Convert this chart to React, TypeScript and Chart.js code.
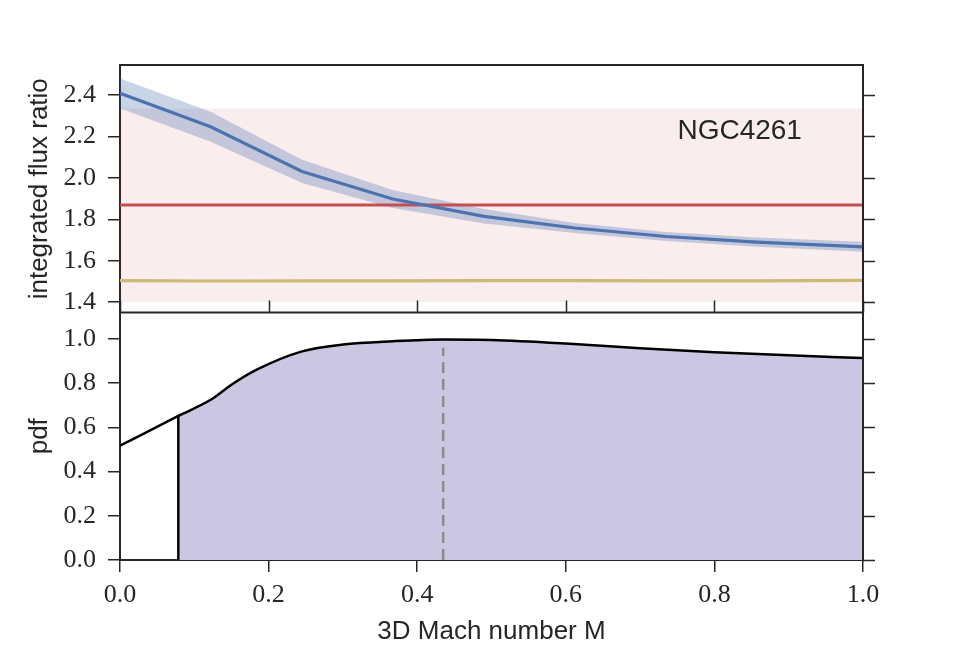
import React, { useEffect, useRef } from "react";
import { Chart, registerables } from "chart.js";

Chart.register(...registerables);

// ---- data ----
const MACH = [0, 0.122, 0.245, 0.367, 0.49, 0.612, 0.735, 0.857, 1.0];
const FLUX_MODEL = [2.408, 2.247, 2.031, 1.898, 1.814, 1.758, 1.717, 1.69, 1.667];
const FLUX_HI = [2.48, 2.319, 2.087, 1.942, 1.85, 1.782, 1.739, 1.712, 1.691];
const FLUX_LO = [2.336, 2.175, 1.975, 1.854, 1.78, 1.734, 1.695, 1.668, 1.643];
const FLUX_THERMAL = [1.504, 1.502, 1.503, 1.503, 1.504, 1.504, 1.503, 1.503, 1.505];
const OBS_RATIO = 1.869;
const OBS_LO = 1.4;
const OBS_HI = 2.335;

const PDF_X = [0, 0.0785, 0.122, 0.15, 0.184, 0.245, 0.3, 0.367, 0.435, 0.5, 0.6, 0.7, 0.8, 0.9, 1.0];
const PDF_Y = [0.517, 0.652, 0.725, 0.793, 0.861, 0.944, 0.975, 0.99, 0.998, 0.996, 0.98, 0.958, 0.94, 0.926, 0.914];
const PDF_CUT = 0.0785;
const PEAK_M = 0.435;
const PEAK_TOP = 0.96;

const X_TICKS = [0, 0.2, 0.4, 0.6, 0.8, 1.0];
const FLUX_TICKS = [1.4, 1.6, 1.8, 2.0, 2.2, 2.4];
const PDF_TICKS = [0, 0.2, 0.4, 0.6, 0.8, 1.0];

const LABEL = "NGC4261";

// ---- styles ----
const INK = "#262626";
const SERIF = "'Liberation Serif', 'DejaVu Serif', serif";
const SANS = "'Liberation Sans', 'DejaVu Sans', sans-serif";
const TICK_LEN = 12;

const pts = (xs: number[], ys: number[]) => xs.map((x, i) => ({ x, y: ys[i] }));
const flat = (v: number) => [{ x: 0, y: v }, { x: 1, y: v }];

const framePlugin = {
  id: "frame",
  afterDraw(chart: any) {
    const { ctx, chartArea, scales } = chart;
    const { left, right, top, bottom } = chartArea;
    const yF = scales.yFlux;
    const yP = scales.yPdf;
    const x = scales.x;
    const sep = yP.top;
    ctx.save();
    ctx.strokeStyle = INK;
    ctx.lineWidth = 2;
    ctx.beginPath();
    ctx.moveTo(left, top);
    ctx.lineTo(right, top);
    ctx.lineTo(right, bottom);
    ctx.stroke();
    ctx.beginPath();
    ctx.moveTo(left, sep);
    ctx.lineTo(right, sep);
    ctx.stroke();
    ctx.lineWidth = 1.5;
    ctx.beginPath();
    for (const v of FLUX_TICKS) {
      const p = Math.round(yF.getPixelForValue(v)) + 0.5;
      ctx.moveTo(right, p);
      ctx.lineTo(right + TICK_LEN, p);
    }
    for (const v of PDF_TICKS) {
      const p = Math.round(yP.getPixelForValue(v)) + 0.5;
      ctx.moveTo(right, p);
      ctx.lineTo(right + TICK_LEN, p);
    }
    for (const v of X_TICKS) {
      const p = Math.round(x.getPixelForValue(v)) + 0.5;
      ctx.moveTo(p, sep);
      ctx.lineTo(p, sep - TICK_LEN);
    }
    ctx.stroke();
    // label
    ctx.fillStyle = INK;
    ctx.font = `28px ${SANS}`;
    ctx.textAlign = "center";
    ctx.textBaseline = "middle";
    ctx.fillText(LABEL, x.getPixelForValue(0.834), yF.getPixelForValue(2.225));
    ctx.restore();
  },
};

export default function App() {
  const ref = useRef<HTMLCanvasElement | null>(null);

  useEffect(() => {
    if (!ref.current) return;
    const pdfPts = pts(PDF_X, PDF_Y);
    const fillPts = pdfPts.filter((p) => p.x >= PDF_CUT);
    const cutTop = PDF_Y[PDF_X.indexOf(PDF_CUT)];

    const chart = new Chart(ref.current, {
      type: "line",
      data: {
        datasets: [
          // top panel
          {
            label: "model",
            data: pts(MACH, FLUX_MODEL),
            yAxisID: "yFlux",
            borderColor: "#4c72b0",
            borderWidth: 3.2,
            pointRadius: 0,
            fill: false,
            order: 1,
          },
          {
            label: "thermal",
            data: pts(MACH, FLUX_THERMAL),
            yAxisID: "yFlux",
            borderColor: "#ccb974",
            borderWidth: 3.2,
            pointRadius: 0,
            fill: false,
            order: 2,
          },
          {
            label: "observed",
            data: flat(OBS_RATIO),
            yAxisID: "yFlux",
            borderColor: "#c44e52",
            borderWidth: 3.2,
            pointRadius: 0,
            fill: false,
            order: 3,
          },
          {
            label: "model hi",
            data: pts(MACH, FLUX_HI),
            yAxisID: "yFlux",
            borderWidth: 0,
            borderColor: "rgba(0,0,0,0)",
            backgroundColor: "rgba(76,114,176,0.3)",
            pointRadius: 0,
            fill: "+1",
            order: 5,
          },
          {
            label: "model lo",
            data: pts(MACH, FLUX_LO),
            yAxisID: "yFlux",
            borderWidth: 0,
            borderColor: "rgba(0,0,0,0)",
            pointRadius: 0,
            fill: false,
            order: 6,
          },
          {
            label: "observed range",
            data: flat(OBS_HI),
            yAxisID: "yFlux",
            borderWidth: 0,
            borderColor: "rgba(0,0,0,0)",
            backgroundColor: "rgba(196,78,82,0.1)",
            pointRadius: 0,
            fill: { value: OBS_LO },
            order: 10,
          },
          // bottom panel
          {
            label: "pdf",
            data: pdfPts,
            yAxisID: "yPdf",
            borderColor: "#000000",
            borderWidth: 2.5,
            pointRadius: 0,
            cubicInterpolationMode: "monotone",
            fill: false,
            order: 1,
          },
          {
            label: "cut",
            data: [{ x: PDF_CUT, y: 0 }, { x: PDF_CUT, y: cutTop }],
            yAxisID: "yPdf",
            borderColor: "#000000",
            borderWidth: 2.5,
            pointRadius: 0,
            fill: false,
            order: 2,
          },
          {
            label: "peak",
            data: [{ x: PEAK_M, y: 0 }, { x: PEAK_M, y: PEAK_TOP }],
            yAxisID: "yPdf",
            borderColor: "#8c8c8c",
            borderWidth: 2.5,
            borderDash: [11, 6],
            pointRadius: 0,
            fill: false,
            order: 3,
          },
          {
            label: "pdf fill",
            data: fillPts,
            yAxisID: "yPdf",
            borderWidth: 0,
            borderColor: "rgba(0,0,0,0)",
            backgroundColor: "#cbc6e1",
            pointRadius: 0,
            cubicInterpolationMode: "monotone",
            fill: "origin",
            order: 8,
          },
        ],
      },
      options: {
        animation: false,
        responsive: false,
        maintainAspectRatio: false,
        layout: { padding: { top: 65, right: 97, left: 0, bottom: 0 } },
        plugins: { legend: { display: false }, tooltip: { enabled: false } },
        scales: {
          x: {
            type: "linear",
            position: "bottom",
            min: 0,
            max: 1,
            afterBuildTicks: (s: any) => {
              s.ticks = X_TICKS.map((value) => ({ value }));
            },
            afterFit: (s: any) => {
              s.height = 100;
            },
            ticks: {
              autoSkip: false,
              maxRotation: 0,
              padding: 8,
              color: INK,
              font: { family: SERIF, size: 26 },
              callback: (v: any) => Number(v).toFixed(1),
            },
            grid: { drawOnChartArea: false, drawTicks: true, tickLength: TICK_LEN, color: INK, lineWidth: 1.5 },
            border: { display: true, color: INK, width: 2 },
            title: {
              display: true,
              text: "3D Mach number M",
              color: INK,
              font: { family: SANS, size: 26 },
              padding: { top: 0, bottom: 13 },
            },
          },
          yFlux: {
            type: "linear",
            position: "left",
            stack: "panels",
            stackWeight: 1,
            weight: 2,
            min: 1.35,
            max: 2.545,
            afterBuildTicks: (s: any) => {
              s.ticks = FLUX_TICKS.map((value) => ({ value }));
            },
            afterFit: (s: any) => {
              s.width = 120;
            },
            ticks: {
              autoSkip: false,
              padding: 12,
              color: INK,
              font: { family: SERIF, size: 26 },
              callback: (v: any) => Number(v).toFixed(1),
            },
            grid: { drawOnChartArea: false, drawTicks: true, tickLength: TICK_LEN, color: INK, lineWidth: 1.5 },
            border: { display: true, color: INK, width: 2 },
            title: {
              display: true,
              text: "integrated flux ratio",
              color: INK,
              font: { family: SANS, size: 26 },
              padding: { top: 24, bottom: 0 },
            },
          },
          yPdf: {
            type: "linear",
            position: "left",
            stack: "panels",
            stackWeight: 1,
            weight: 1,
            min: 0,
            max: 1.12,
            afterBuildTicks: (s: any) => {
              s.ticks = PDF_TICKS.map((value) => ({ value }));
            },
            afterFit: (s: any) => {
              s.width = 120;
            },
            ticks: {
              autoSkip: false,
              padding: 12,
              color: INK,
              font: { family: SERIF, size: 26 },
              callback: (v: any) => Number(v).toFixed(1),
            },
            grid: { drawOnChartArea: false, drawTicks: true, tickLength: TICK_LEN, color: INK, lineWidth: 1.5 },
            border: { display: true, color: INK, width: 2 },
            title: {
              display: true,
              text: "pdf",
              color: INK,
              font: { family: SANS, size: 26 },
              padding: { top: 24, bottom: 0 },
            },
          },
        },
      } as any,
      plugins: [framePlugin],
    });
    return () => chart.destroy();
  }, []);

  return (
    <div style={{ position: "fixed", left: 0, top: 0, width: 960, height: 660, background: "#ffffff" }}>
      <canvas ref={ref} width={960} height={660} style={{ display: "block", width: 960, height: 660 }} />
    </div>
  );
}
